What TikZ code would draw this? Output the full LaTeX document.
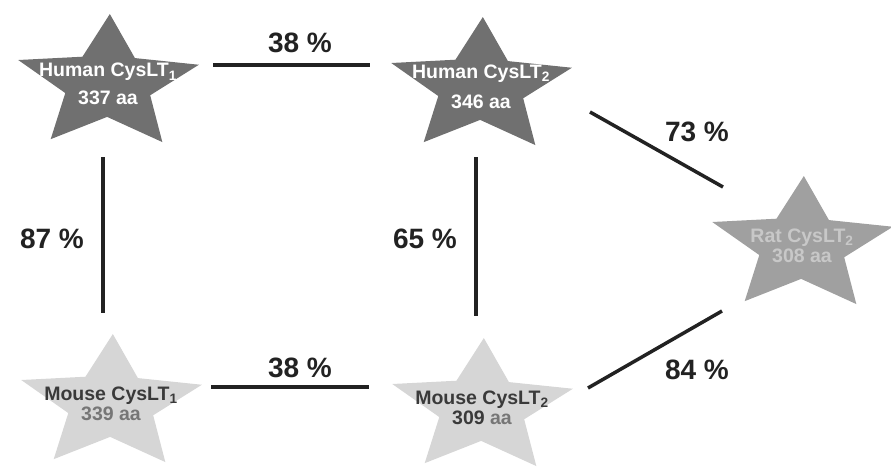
\documentclass[tikz,border=0pt]{standalone}
\usepackage{fontspec}
\setmainfont{Liberation Sans}
\usetikzlibrary{calc}

\definecolor{humanfill}{RGB}{112,112,112}
\definecolor{ratfill}{RGB}{160,160,160}
\definecolor{ratink}{RGB}{200,200,200}
\definecolor{mousefill}{RGB}{214,214,214}
\definecolor{mouseink}{RGB}{58,58,58}
\definecolor{mousesoft}{RGB}{118,118,118}
\definecolor{linkink}{RGB}{34,34,34}

% a receptor: flattened five-pointed star with a two-line label
% #1 name, #2 centre, #3 fill, #4 label
\newcommand{\receptor}[4]{%
  \fill[#3, shift={(#2)}, x=95pt, y=70pt, rotate=-1.5]
    (90:1) -- (126:0.47) -- (162:1) -- (198:0.47) -- (234:1) --
    (270:0.47) -- (306:1) -- (342:0.47) -- (18:1) -- (54:0.47) -- cycle;
  \node[receptortext] (#1) at (#2) {#4};
}

\tikzset{
  receptortext/.style={align=center, inner sep=0pt,
    font=\fontsize{19.5}{19.5}\selectfont\bfseries},
  link/.style={draw=linkink, line width=3.5pt},
  identity/.style={font=\fontsize{28}{28}\selectfont\bfseries, text=linkink}
}

\begin{document}
\begin{tikzpicture}[x=1pt, y=-1pt]
  \useasboundingbox (0,0) rectangle (891,469);

  % receptors
  \receptor{h1}{108,84}{humanfill}{\textcolor{white}{Human CysLT\textsubscript{1}}\\[8pt]\textcolor{white}{337 aa}}
  \receptor{h2}{481,87}{humanfill}{\textcolor{white}{Human CysLT\textsubscript{2}}\\[11pt]\textcolor{white}{346 aa}}
  \receptor{rat}{802,246}{ratfill}{\textcolor{ratink}{Rat CysLT\textsubscript{2}}\\[1pt]\textcolor{ratink}{308 aa}}
  \receptor{m1}{111,404}{mousefill}{\textcolor{mouseink}{Mouse CysLT\textsubscript{1}}\\[0.5pt]\textcolor{mousesoft}{339 aa}}
  \receptor{m2}{482,408}{mousefill}{\textcolor{mouseink}{Mouse CysLT\textsubscript{2}}\\[1pt]\textcolor{mouseink}{309 \textcolor{mousesoft}{aa}}}

  % sequence identity links
  \draw[link] ($(h1)+(105,-19)$) -- ($(h2)+(-111,-22)$);
  \draw[link] ($(h1)+(-5,73)$) -- ($(m1)+(-8,-91)$);
  \draw[link] ($(h2)+(-5,70)$) -- ($(m2)+(-6,-92)$);
  \draw[link] ($(m1)+(100,-17)$) -- ($(m2)+(-113,-21)$);
  \draw[link] ($(h2)+(109,25)$) -- ($(rat)+(-79,-59)$);
  \draw[link] ($(m2)+(106,-20)$) -- ($(rat)+(-80,65)$);

  % identity labels
  \node[identity] (p1) at (300,43) {38 \%};
  \node[identity] (p2) at (52,239) {87 \%};
  \node[identity] (p3) at (425,239) {65 \%};
  \node[identity] (p4) at (300,368) {38 \%};
  \node[identity] (p5) at (697,132) {73 \%};
  \node[identity] (p6) at (697,370) {84 \%};
\end{tikzpicture}
\end{document}
